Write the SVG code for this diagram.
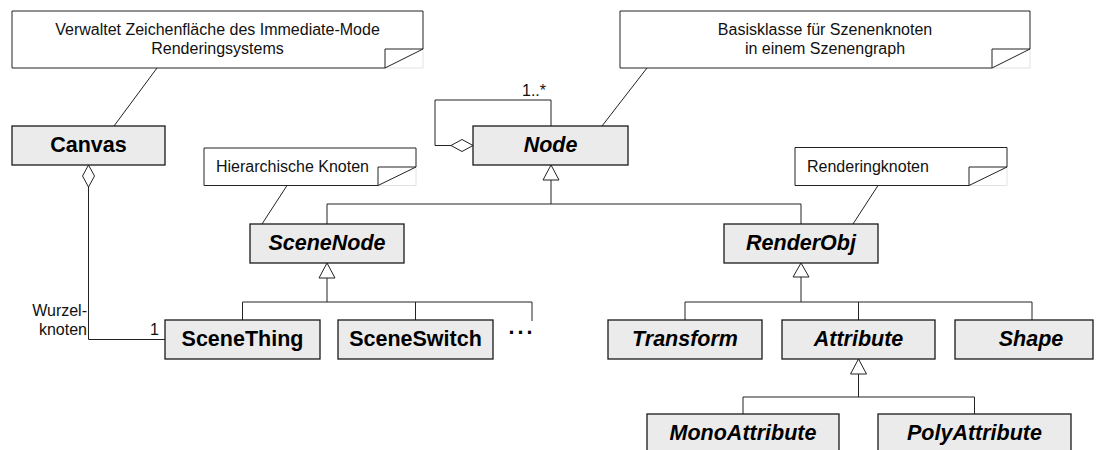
<svg xmlns="http://www.w3.org/2000/svg" width="1101" height="450" viewBox="0 0 1101 450">
<style>
.box{fill:#ebebeb;stroke:#1a1a1a;stroke-width:1.3}
.nm{font-family:"Liberation Sans",Arial,sans-serif;font-weight:bold;font-size:21.5px;text-anchor:middle;fill:#000}
.it{font-style:italic}
.note{fill:#fff;stroke:#222;stroke-width:1}
.faint{fill:none;stroke:#e2e2e2;stroke-width:1}
.nt{font-family:"Liberation Sans",Arial,sans-serif;font-size:16px;fill:#111}
.ln{fill:none;stroke:#222;stroke-width:1}
.hd{fill:#fff;stroke:#222;stroke-width:1}
</style>
<rect width="1101" height="450" fill="#fff"/>
<g id="note1">
<path class="faint" d="M423,49V68H385"/>
<polygon class="note" points="12,11 423,11 423,49 385,68 12,68"/>
<polyline class="ln" points="385,68 385,49 423,49"/>
<text class="nt" x="217.5" y="35" text-anchor="middle">Verwaltet Zeichenfläche des Immediate-Mode</text>
<text class="nt" x="217.5" y="54" text-anchor="middle">Renderingsystems</text>
</g>
<g id="note2">
<path class="faint" d="M1030,49V68H992"/>
<polygon class="note" points="620,11 1030,11 1030,49 992,68 620,68"/>
<polyline class="ln" points="992,68 992,49 1030,49"/>
<text class="nt" x="825" y="35" text-anchor="middle">Basisklasse für Szenenknoten</text>
<text class="nt" x="825" y="54" text-anchor="middle">in einem Szenengraph</text>
</g>
<g id="note3">
<path class="faint" d="M416,167V185.5H378"/>
<polygon class="note" points="204,148 416,148 416,167 378,185.5 204,185.5"/>
<polyline class="ln" points="378,185.5 378,167 416,167"/>
<text class="nt" x="216" y="172">Hierarchische Knoten</text>
</g>
<g id="note4">
<path class="faint" d="M1007,167V185.5H969"/>
<polygon class="note" points="795,147.5 1007,147.5 1007,167 969,185.5 795,185.5"/>
<polyline class="ln" points="969,185.5 969,167 1007,167"/>
<text class="nt" x="807" y="172">Renderingknoten</text>
</g>
<g id="connectors">
<line class="ln" x1="157" y1="68" x2="114" y2="126"/>
<line class="ln" x1="647" y1="68" x2="602" y2="126"/>
<line class="ln" x1="287" y1="185.5" x2="262" y2="224"/>
<line class="ln" x1="878" y1="185.5" x2="853" y2="224"/>
<polyline class="ln" points="88.5,187 88.5,339.5 165,339.5"/>
<polygon class="hd" points="88.5,165 94.5,176 88.5,187 82.5,176"/>
<polyline class="ln" points="451,145.5 435,145.5 435,100 551,100 551,126"/>
<polygon class="hd" points="473,145.5 462,139.5 451,145.5 462,151.5"/>
<polyline class="ln" points="551,180 551,204"/>
<polyline class="ln" points="327,224 327,204 801,204 801,224"/>
<polygon class="hd" points="551,165 559,180 543,180"/>
<polyline class="ln" points="327,278 327,302"/>
<polyline class="ln" points="242.5,320 242.5,302 532,302 532,321"/>
<line class="ln" x1="415.5" y1="302" x2="415.5" y2="320"/>
<polygon class="hd" points="327,263 335,278 319,278"/>
<line class="ln" x1="801" y1="277" x2="801" y2="302" stroke-width="2"/>
<polyline class="ln" points="685,320 685,302 1032,302 1032,320"/>
<line class="ln" x1="858.5" y1="302" x2="858.5" y2="320"/>
<polygon class="hd" points="801,263 809,277 793,277"/>
<polyline class="ln" points="858.5,374 858.5,397"/>
<polyline class="ln" points="743,414 743,397 974.5,397 974.5,414"/>
<polygon class="hd" points="858.5,359 866.5,374 850.5,374"/>
<text class="nt" x="522" y="96">1..*</text>
<text class="nt" x="87" y="316" text-anchor="end">Wurzel-</text>
<text class="nt" x="87" y="335" text-anchor="end">knoten</text>
<text class="nt" x="159" y="335" text-anchor="end">1</text>
<text class="nm" x="522" y="334" text-anchor="start" letter-spacing="3">...</text>
</g>
<g id="Canvas"><rect class="box" x="12" y="126" width="153" height="39"/><text class="nm" x="88.5" y="152">Canvas</text></g>
<g id="Node"><rect class="box" x="473" y="126" width="155" height="39"/><text class="nm it" x="550.5" y="152">Node</text></g>
<g id="SceneNode"><rect class="box" x="250" y="224" width="154" height="39"/><text class="nm it" x="327" y="250">SceneNode</text></g>
<g id="RenderObj"><rect class="box" x="724" y="224" width="154" height="39"/><text class="nm it" x="801" y="250">RenderObj</text></g>
<g id="SceneThing"><rect class="box" x="165" y="320" width="155" height="39"/><text class="nm" x="242.5" y="346">SceneThing</text></g>
<g id="SceneSwitch"><rect class="box" x="338" y="320" width="155" height="39"/><text class="nm" x="415.5" y="346">SceneSwitch</text></g>
<g id="Transform"><rect class="box" x="608" y="320" width="154" height="39"/><text class="nm it" x="685" y="346">Transform</text></g>
<g id="Attribute"><rect class="box" x="782" y="320" width="153" height="39"/><text class="nm it" x="858.5" y="346">Attribute</text></g>
<g id="Shape"><rect class="box" x="955" y="320" width="138" height="39"/><text class="nm it" x="1031" y="346">Shape</text></g>
<g id="MonoAttribute"><rect class="box" x="647" y="414" width="192" height="39"/><text class="nm it" x="743" y="440">MonoAttribute</text></g>
<g id="PolyAttribute"><rect class="box" x="878" y="414" width="193" height="39"/><text class="nm it" x="974.5" y="440">PolyAttribute</text></g>
</svg>
